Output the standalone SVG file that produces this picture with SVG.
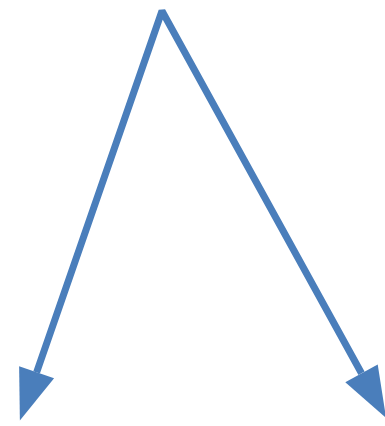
<svg xmlns="http://www.w3.org/2000/svg" width="385" height="426" viewBox="0 0 385 426">
  <style>
    .conn { fill: none; stroke: #4A7EBB; stroke-width: 7; stroke-linejoin: bevel; }
    .head { fill: #4A7EBB; }
  </style>
  <defs>
    <marker id="arrow" markerUnits="userSpaceOnUse" markerWidth="52" markerHeight="38" refX="0" refY="18.5" orient="auto-start-reverse" overflow="visible">
      <path class="head" d="M0,0 L51,18.5 L0,37 Z"/>
    </marker>
  </defs>
  <rect width="385" height="426" fill="#ffffff"/>
  <g id="connectors">
    <path class="conn" d="M36.6,372.3 L162,11 L361.5,373.3" marker-start="url(#arrow)" marker-end="url(#arrow)"/>
  </g>
</svg>
